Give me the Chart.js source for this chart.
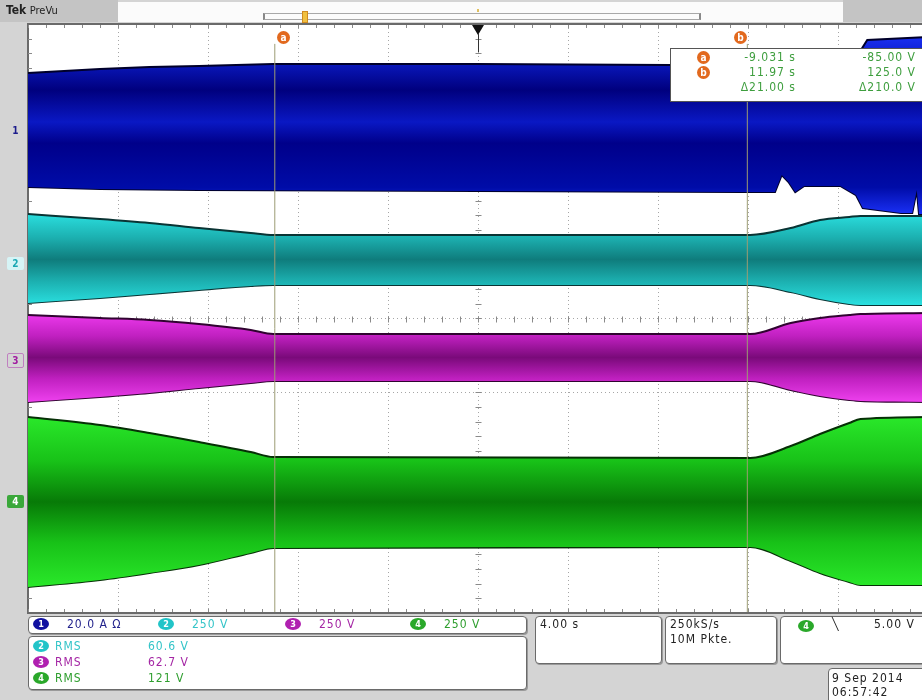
<!DOCTYPE html>
<html>
<head>
<meta charset="utf-8">
<title>Scope capture</title>
<script src="https://cdn.jsdelivr.net/npm/chart.js@4.4.1/dist/chart.umd.min.js"></script>
<style>
  html, body { margin: 0; padding: 0; }
  body {
    width: 922px; height: 700px; overflow: hidden; position: relative;
    background: #d4d4d4;
    font-family: "DejaVu Sans Condensed", "Liberation Sans Narrow", sans-serif;
  }
  #wrap { position: absolute; left: 0; top: 0; width: 934px; height: 700px; }
  .abs { position: absolute; white-space: nowrap; }
  .box { position: absolute; background: #fff; border: 1px solid #6a6a6a; border-radius: 4px; box-shadow: 1px 1px 0 #9a9a9a; }
  .badge {
    position: absolute; width: 16px; height: 12px; border-radius: 50%;
    font-size: 9px; line-height: 12px; text-align: center; color: #fff; font-weight: bold;
  }
  .cur { position: absolute; width: 13px; height: 13px; border-radius: 50%; background: #e2691e;
    color: #fff; font-size: 10px; line-height: 13px; text-align: center; font-weight: bold; }
  .txt { font-size: 12px; letter-spacing: 1px; }
  .mark { position: absolute; left: 7px; width: 17px; height: 13px; font-size: 10px; line-height: 13px;
    text-align: center; font-weight: bold; border-radius: 2px; }
</style>
</head>
<body>
<div id="wrap"><canvas id="scope" width="934" height="700"></canvas></div>

<!-- top record bar -->
<div class="abs" style="left:0;top:0;width:118px;height:22px;background:#c4c4c4;"></div>
<div class="abs" style="left:118px;top:2px;width:725px;height:20px;background:#fbfbfb;"></div>
<div class="abs" style="left:843px;top:0;width:79px;height:22px;background:#c4c4c4;"></div>
<div class="abs" style="left:6px;top:3px;font-size:12px;color:#222;"><b>Tek</b> <span style="font-size:11px">PreVu</span></div>
<div class="abs" style="left:263px;top:13px;width:434px;height:5px;border:1px solid #a8a8a8;border-left:2px solid #888;border-right:2px solid #888;"></div>
<div class="abs" style="left:302px;top:11px;width:4px;height:10px;background:#f0c040;border:1px solid #d08a20;"></div>
<div class="abs" style="left:477px;top:9px;width:2px;height:3px;background:#e0c060;"></div>

<!-- cursor labels -->
<div class="cur" style="left:277px;top:31px;">a</div>
<div class="cur" style="left:734px;top:31px;">b</div>

<!-- cursor readout -->
<div class="abs" style="left:670px;top:48px;width:260px;height:52px;background:#fff;border:1px solid #555;"></div>
<div id="readout"></div>

<!-- channel ground markers -->
<div class="mark" style="top:124px;color:#1c1c8c;">1</div>
<div class="mark" style="top:257px;color:#1aa8b4;background:#d6f4f6;">2</div>
<div class="mark" style="top:353px;color:#a01ca0;border:1px solid #c080c0;width:15px;">3</div>
<div class="mark" style="top:495px;color:#fff;background:#3aa83a;">4</div>

<!-- bottom panel -->
<div class="box" style="left:28px;top:616px;width:497px;height:16px;"></div>
<div class="box" style="left:28px;top:636px;width:497px;height:52px;"></div>
<div class="box" style="left:535px;top:616px;width:125px;height:46px;"></div>
<div class="box" style="left:665px;top:616px;width:110px;height:46px;"></div>
<div class="box" style="left:780px;top:616px;width:150px;height:46px;"></div>
<div class="box" style="left:828px;top:668px;width:100px;height:36px;"></div>
<div id="panel"></div>

<script>
// ---- timebase / cursors ----
const timeDiv = 4.0;             // s per division
const gridTimes = [-20, -16, -12, -8, -4, 0, 4, 8, 12, 16, 20];
const triggerTime = 0;
const cursorTimes = [-9.031, 11.97];
const cursorVolts = [-85.00, 125.0];

// ---- envelopes (screen divisions, read off the capture) ----
// ch1 current (blue)
const blueUpperT = [-20, -16.8, -14.6, -12.4, -9.1, 0, 8.5, 16.6, 17.3, 20];
const blueUpper  = [3.334, 3.389, 3.416, 3.430, 3.457, 3.457, 3.443, 3.443, 3.783, 3.824];
const blueLowerT = [-20, -16.8, -12.4, 0, 11.6, 13.2, 13.5, 13.8, 14.1, 14.5, 16.1, 16.8, 17.1, 18.8, 19.3, 19.5, 19.6, 20];
const blueLower  = [1.786, 1.759, 1.745, 1.732, 1.718, 1.718, 1.949, 1.854, 1.718, 1.800, 1.800, 1.677, 1.501, 1.433, 1.433, 1.745, 1.419, 1.419];

// ch2..ch4 voltages share one time grid
const bandTimes    = [-20, -16.8, -14.6, -12.4, -10.1, -9.1, 12.1, 13.9, 15.2, 16.5, 17.0, 20];
const cyanUpper    = [1.419, 1.351, 1.297, 1.229, 1.161, 1.134, 1.134, 1.229, 1.338, 1.379, 1.392, 1.392];
const cyanLower    = [0.211, 0.278, 0.333, 0.387, 0.441, 0.455, 0.455, 0.360, 0.265, 0.197, 0.183, 0.183];
const magentaUpper = [0.048, 0.007, -0.020, -0.075, -0.156, -0.211, -0.211, -0.061, 0.007, 0.048, 0.061, 0.075];
const magentaLower = [-1.134, -1.066, -1.012, -0.944, -0.876, -0.849, -0.849, -0.971, -1.053, -1.107, -1.121, -1.134];
const greenUpper   = [-1.338, -1.447, -1.555, -1.677, -1.813, -1.881, -1.895, -1.732, -1.569, -1.419, -1.365, -1.338];
const greenLower   = [-3.647, -3.552, -3.457, -3.348, -3.185, -3.117, -3.104, -3.294, -3.457, -3.579, -3.620, -3.620];

// ---- panel text ----
const chNames   = ['1', '2', '3', '4'];
const chScales  = ['20.0 A \u03A9', '250 V', '250 V', '250 V'];
const rmsCh     = ['2', '3', '4'];
const rmsValues = ['60.6 V', '62.7 V', '121 V'];
const acqText   = ['4.00 s', '250kS/s', '10M Pkte.'];
const trigText  = '5.00 V';
const dateText  = ['9 Sep 2014', '06:57:42'];

const chColor = ['#1010a0', '#22c4c8', '#b020b0', '#2aa82a'];
const chText  = ['#23238c', '#33c4c8', '#a426a4', '#2e9e2e'];

function pts(times, vals) {
    return times.map((t, i) => ({ x: t, y: vals[i] }));
}

// vertical gradient spanning the widest part of a band
function bandFill(stops, topVal, botVal) {
    return function(ctx) {
        const chart = ctx.chart;
        if (!chart.chartArea) return stops[Math.floor(stops.length / 2)][1];
        const y = chart.scales.y;
        const g = chart.ctx.createLinearGradient(0, y.getPixelForValue(topVal), 0, y.getPixelForValue(botVal));
        stops.forEach(s => g.addColorStop(s[0], s[1]));
        return g;
    };
}

const blueStops = [[0, '#1a30f2'], [0.12, '#0c1cc8'], [0.3, '#00007e'], [0.48, '#0a18c4'], [0.6, '#00008a'], [0.85, '#000ca8'], [1, '#1a30f5']];
const cyanStops = [[0, '#2adede'], [0.26, '#1cb0b0'], [0.5, '#0f7c7c'], [0.74, '#1cb0b0'], [1, '#2ae0e0']];
const magStops  = [[0, '#ee3aee'], [0.26, '#c020c0'], [0.5, '#7a0a7a'], [0.74, '#c020c0'], [1, '#ee40ee']];
const grnStops  = [[0, '#2ae82a'], [0.26, '#18c218'], [0.5, '#077a07'], [0.74, '#18c218'], [1, '#2ae82a']];

function bandPair(label, tU, up, tL, lo, stops, edge, smooth) {
    const top = Math.max(...up), bot = Math.min(...lo);
    const common = {
        pointRadius: 0, borderWidth: 2, borderColor: edge, order: 2,
        cubicInterpolationMode: smooth ? 'monotone' : 'default', tension: 0
    };
    return [
        Object.assign({ label: label + ' max', data: pts(tU, up), fill: '+1', backgroundColor: bandFill(stops, top, bot) }, common),
        Object.assign({ label: label + ' min', data: pts(tL, lo), fill: false }, common)
    ];
}

const cursorTop = 3.73;
const cursorSets = cursorTimes.map((t, i) => ({
    label: 'cursor ' + (i ? 'b' : 'a'),
    data: [{ x: t, y: -4 }, { x: t, y: cursorTop }],
    borderColor: '#9c9c74', borderWidth: 1, pointRadius: 0, fill: false, order: 0
}));

const datasets = [
    ...bandPair('CH1', blueUpperT, blueUpper, blueLowerT, blueLower, blueStops, '#00002a', false),
    ...bandPair('CH2', bandTimes, cyanUpper, bandTimes, cyanLower, cyanStops, '#0a3434', true),
    ...bandPair('CH3', bandTimes, magentaUpper, bandTimes, magentaLower, magStops, '#300430', true),
    ...bandPair('CH4', bandTimes, greenUpper, bandTimes, greenLower, grnStops, '#063006', true),
    ...cursorSets
];

// graticule extras: white screen, minor ticks, frame, trigger marker
const graticule = {
    id: 'graticule',
    beforeDraw(chart) {
        const { ctx, chartArea: a } = chart;
        ctx.save();
        ctx.fillStyle = '#ffffff';
        ctx.fillRect(a.left, a.top, a.right - a.left, a.bottom - a.top);
        ctx.restore();
    },
    beforeDatasetsDraw(chart) {
        const { ctx, chartArea: a, scales: { x, y } } = chart;
        ctx.save();
        ctx.strokeStyle = '#8a8a8a';
        ctx.lineWidth = 1;
        const x0 = Math.round(x.getPixelForValue(0)) + 0.5;
        const y0 = Math.round(y.getPixelForValue(0)) + 0.5;
        ctx.beginPath();
        for (let t = -20; t <= 20.001; t += timeDiv / 5) {
            const px = Math.round(x.getPixelForValue(t)) + 0.5;
            ctx.moveTo(px, y0 - 3); ctx.lineTo(px, y0 + 3);
            ctx.moveTo(px, a.top); ctx.lineTo(px, a.top + 4);
            ctx.moveTo(px, a.bottom); ctx.lineTo(px, a.bottom - 4);
        }
        for (let v = -4; v <= 4.001; v += 0.2) {
            const py = Math.round(y.getPixelForValue(v)) + 0.5;
            ctx.moveTo(x0 - 3, py); ctx.lineTo(x0 + 3, py);
            ctx.moveTo(a.left, py); ctx.lineTo(a.left + 4, py);
        }
        ctx.stroke();
        ctx.restore();
    },
    afterDraw(chart) {
        const { ctx, chartArea: a, scales: { x } } = chart;
        ctx.save();
        ctx.strokeStyle = '#6a6a6a';
        ctx.lineWidth = 2;
        ctx.beginPath();
        ctx.moveTo(a.left, a.top); ctx.lineTo(a.right, a.top);
        ctx.moveTo(a.left, a.bottom); ctx.lineTo(a.right, a.bottom);
        ctx.stroke();
        // trigger position
        const tx = Math.round(x.getPixelForValue(triggerTime));
        ctx.fillStyle = '#111';
        ctx.beginPath();
        ctx.moveTo(tx - 6, a.top + 1); ctx.lineTo(tx + 6, a.top + 1); ctx.lineTo(tx, a.top + 11);
        ctx.closePath();
        ctx.fill();
        ctx.strokeStyle = '#333'; ctx.lineWidth = 1;
        ctx.beginPath();
        ctx.moveTo(tx + 0.5, a.top + 10); ctx.lineTo(tx + 0.5, a.top + 28);
        ctx.stroke();
        ctx.restore();
    }
};

const scope = new Chart(document.getElementById('scope'), {
    type: 'line',
    data: { datasets: datasets },
    options: {
        responsive: false,
        animation: false,
        events: [],
        layout: { padding: { left: 28, top: 24, right: 6, bottom: 87 } },
        plugins: { legend: { display: false }, tooltip: { enabled: false } },
        scales: {
            x: {
                type: 'linear', min: -20, max: 20,
                afterBuildTicks: axis => { axis.ticks = gridTimes.map(v => ({ value: v })); },
                ticks: { display: false },
                grid: { color: '#a6a6a6', lineWidth: 1, drawTicks: false },
                border: { display: true, color: '#6a6a6a', width: 2, dash: [1, 3] }
            },
            y: {
                type: 'linear', min: -4, max: 4,
                ticks: { display: false, stepSize: 1 },
                grid: { color: '#a6a6a6', lineWidth: 1, drawTicks: false },
                border: { display: true, color: '#6a6a6a', width: 2, dash: [1, 3] }
            }
        }
    },
    plugins: [graticule]
});

// ---- cursor readout text ----
function fmtV(v) { return (Math.abs(v) >= 100 ? v.toFixed(1) : v.toFixed(2)) + ' V'; }
function fmtT(t) { return (Math.abs(t) >= 10 ? t.toFixed(2) : t.toFixed(3)) + ' s'; }
const readRows = [
    ['a', fmtT(cursorTimes[0]), fmtV(cursorVolts[0])],
    ['b', fmtT(cursorTimes[1]), fmtV(cursorVolts[1])],
    ['', '\u0394' + fmtT(cursorTimes[1] - cursorTimes[0]), '\u0394' + fmtV(cursorVolts[1] - cursorVolts[0])]
];
let html = '';
readRows.forEach((r, i) => {
    const top = 51 + i * 15;
    if (r[0]) html += `<div class="cur" style="left:697px;top:${top}px;">${r[0]}</div>`;
    html += `<div class="abs txt" style="right:${922 - 796}px;top:${top - 1}px;color:#3e9e3e;">${r[1]}</div>`;
    html += `<div class="abs txt" style="right:${922 - 916}px;top:${top - 1}px;color:#3e9e3e;">${r[2]}</div>`;
});
document.getElementById('readout').innerHTML = html;

// ---- bottom panel text ----
const scaleLeft = [33, 158, 285, 410];
let p = '';
chNames.forEach((n, i) => {
    p += `<div class="badge" style="left:${scaleLeft[i]}px;top:618px;background:${chColor[i]};">${n}</div>`;
    p += `<div class="abs txt" style="left:${scaleLeft[i] + 34}px;top:617px;color:${chText[i]};">${chScales[i]}</div>`;
});
rmsCh.forEach((n, i) => {
    const ci = Number(n) - 1;
    const top = 639 + i * 16;
    p += `<div class="badge" style="left:33px;top:${top + 1}px;background:${chColor[ci]};">${n}</div>`;
    p += `<div class="abs txt" style="left:55px;top:${top}px;color:${chText[ci]};">RMS</div>`;
    p += `<div class="abs txt" style="left:148px;top:${top}px;color:${chText[ci]};">${rmsValues[i]}</div>`;
});
p += `<div class="abs txt" style="left:540px;top:617px;color:#222;">${acqText[0]}</div>`;
p += `<div class="abs txt" style="left:670px;top:617px;color:#222;">${acqText[1]}</div>`;
p += `<div class="abs txt" style="left:670px;top:632px;color:#222;">${acqText[2]}</div>`;
p += `<div class="badge" style="left:798px;top:620px;background:${chColor[3]};">4</div>`;
p += `<div class="abs txt" style="left:832px;top:617px;color:#222;">\u2572</div>`;
p += `<div class="abs txt" style="left:874px;top:617px;color:#222;">${trigText}</div>`;
p += `<div class="abs txt" style="left:832px;top:671px;color:#222;">${dateText[0]}</div>`;
p += `<div class="abs txt" style="left:832px;top:685px;color:#222;">${dateText[1]}</div>`;
document.getElementById('panel').innerHTML = p;
</script>
</body>
</html>
